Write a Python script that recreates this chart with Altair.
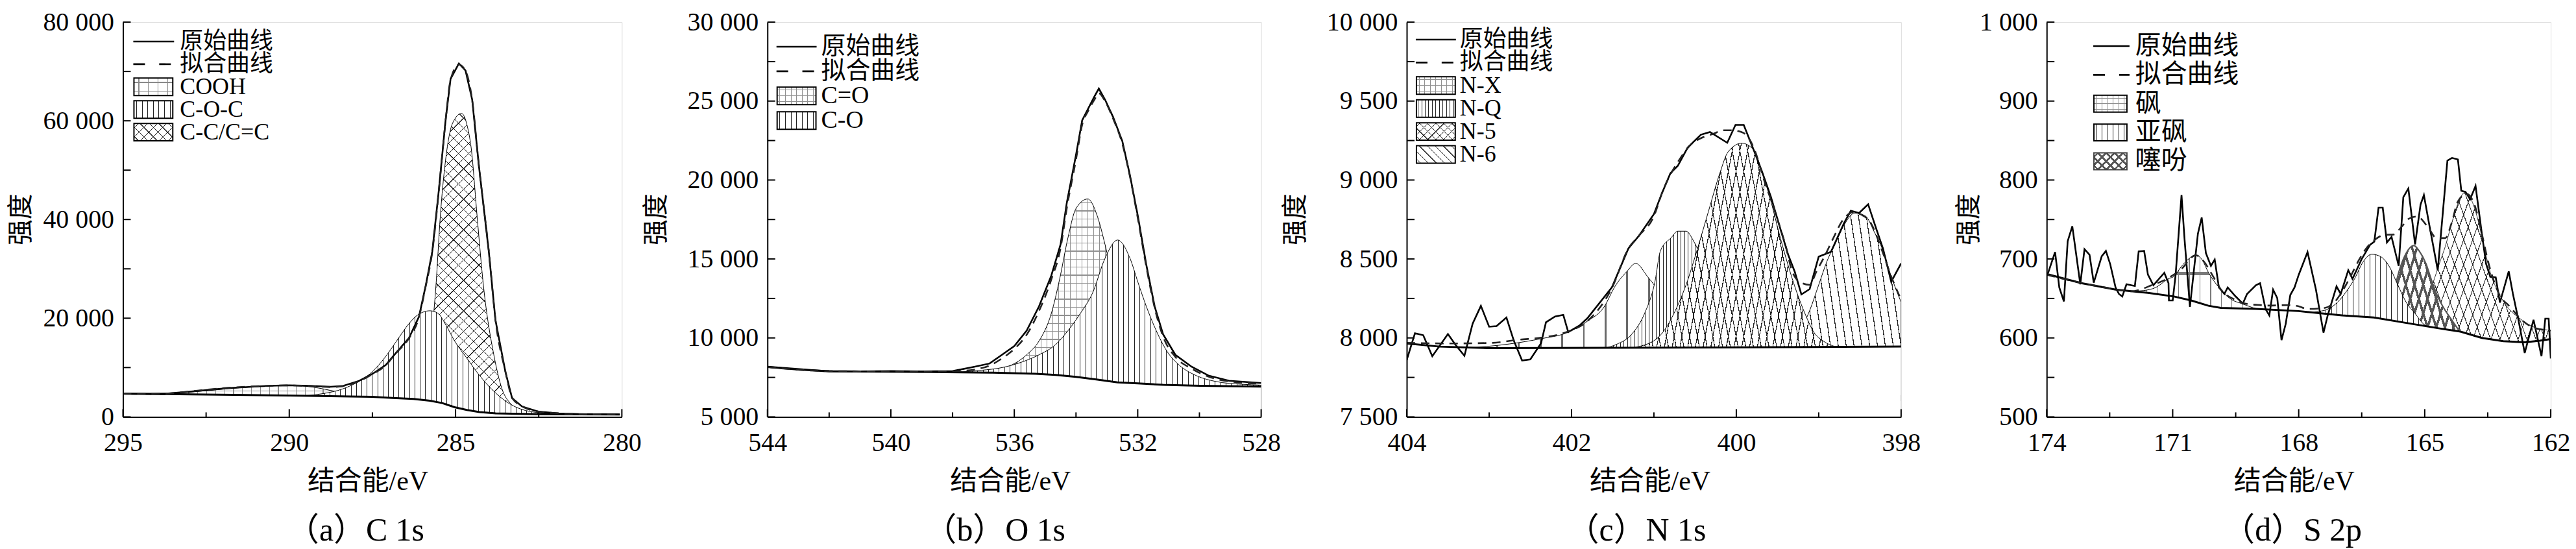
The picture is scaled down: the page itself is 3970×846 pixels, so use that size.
import math
import altair as alt
import pandas as pd

FONT = "Liberation Serif, Noto Sans CJK SC"

# ---------------- (a) C 1s ----------------
a_raw_e = [295.0, 294.2, 293.7, 293.0, 291.9, 290.6, 290.0, 289.4, 288.75, 288.4, 287.9, 287.5, 287.1, 286.8, 286.4, 286.1, 285.9, 285.7, 285.5, 285.3, 285.15, 284.9, 284.7, 284.5, 284.3, 284.0, 283.8, 283.5, 283.3, 283.0, 282.5, 281.9, 281.3, 280.06]
a_raw_v = [4700, 4680, 4700, 5100, 5800, 6300, 6400, 6300, 6100, 6250, 7300, 8700, 10500, 12900, 16000, 20300, 26500, 33500, 46100, 60100, 68500, 71600, 70200, 64300, 51000, 33500, 19600, 9100, 3800, 2100, 1050, 700, 560, 490]
a_fit_e = [295.0, 294.2, 293.7, 293.0, 291.9, 290.6, 290.0, 289.4, 288.75, 288.4, 287.9, 287.5, 287.1, 286.8, 286.4, 286.1, 285.9, 285.7, 285.5, 285.3, 285.15, 284.9, 284.7, 284.5, 284.3, 284.0, 283.8, 283.5, 283.3, 283.0, 282.5, 281.9, 281.3, 280.06]
a_fit_v = [4700, 4690, 4720, 5150, 5850, 6300, 6380, 6250, 6050, 6200, 7250, 8650, 10450, 12850, 15950, 20200, 26400, 33400, 46000, 60000, 68300, 71400, 70100, 64200, 51000, 33600, 19700, 9200, 3900, 2150, 1080, 720, 570, 500]
a_base_e = [295.0, 290.0, 288.75, 287.51, 286.89, 286.27, 285.77, 285.40, 285.03, 284.66, 284.28, 283.79, 282.55, 280.06]
a_base_v = [4700, 4330, 4200, 4050, 3840, 3630, 3280, 2800, 1960, 1400, 980, 700, 560, 490]
a_cooh_e = [294.5, 293.3, 292.5, 291.5, 290.5, 290.0, 289.5, 289.0, 288.5, 288.0, 287.5]
a_cooh_v = [4650, 4900, 5300, 5900, 6300, 6350, 6200, 5700, 5000, 4500, 4050]
a_coc_e = [289.5, 289.0, 288.38, 287.88, 287.51, 287.14, 286.77, 286.4, 286.15, 285.77, 285.53, 285.28, 285.03, 284.66, 284.28, 283.91, 283.41, 282.9, 282.2, 281.5]
a_coc_v = [4300, 4700, 5700, 7300, 9100, 11900, 15400, 18900, 20600, 21500, 21000, 18500, 15400, 11900, 8400, 5600, 2800, 1300, 700, 540]
a_cc_e = [286.6, 286.2, 285.9, 285.65, 285.59, 285.46, 285.28, 285.09, 284.82, 284.65, 284.53, 284.35, 284.16, 283.85, 283.6, 283.35, 283.0, 282.6, 282.0]
a_cc_v = [3600, 5500, 11000, 21500, 26500, 40500, 53100, 59500, 61500, 59000, 54500, 40500, 26500, 12600, 5600, 2700, 1200, 700, 540]

# ---------------- (b) O 1s ----------------
b_raw_e = [544.0, 543.0, 542.0, 541.0, 540.0, 539.0, 538.0, 537.3, 536.8, 536.4, 536.0, 535.6, 535.2, 534.8, 534.5, 534.3, 534.0, 533.8, 533.6, 533.4, 533.26, 533.06, 532.8, 532.5, 532.25, 531.99, 531.72, 531.45, 531.18, 530.78, 530.25, 529.71, 529.04, 528.0]
b_raw_v = [8166, 7990, 7900, 7880, 7900, 7880, 7900, 8170, 8380, 8930, 9480, 10460, 11990, 13950, 15920, 18540, 21590, 23780, 24540, 25300, 25790, 25090, 24000, 22470, 20280, 17660, 14610, 11990, 10240, 8930, 8170, 7620, 7290, 7140]
b_fit_e = [544.0, 542.0, 540.0, 538.0, 537.3, 536.8, 536.4, 536.0, 535.6, 535.2, 534.8, 534.5, 534.3, 534.0, 533.8, 533.6, 533.4, 533.26, 533.06, 532.8, 532.5, 532.25, 531.99, 531.72, 531.45, 531.18, 530.78, 530.25, 529.71, 529.04, 528.0]
b_fit_v = [8150, 7900, 7880, 7880, 8000, 8250, 8700, 9300, 10200, 11700, 13700, 15700, 18200, 21300, 23500, 24400, 25100, 25500, 25000, 23900, 22300, 20200, 17500, 14500, 11900, 10100, 8800, 8050, 7550, 7250, 7100]
b_base_e = [544.0, 542.0, 538.7, 536.7, 535.3, 534.66, 534.0, 533.3, 532.65, 532.0, 531.18, 529.98, 528.0]
b_base_v = [8170, 7880, 7840, 7800, 7730, 7660, 7530, 7360, 7180, 7120, 7030, 6970, 6920]
b_co2_e = [537.5, 536.67, 536.1, 535.6, 535.2, 534.8, 534.53, 534.26, 534.0, 533.62, 533.3, 533.06, 532.8, 532.5, 532.1, 531.6, 531.05, 530.5]
b_co2_v = [7790, 7950, 8270, 8930, 9800, 11550, 13730, 16350, 18200, 18800, 17660, 15920, 13730, 11550, 9370, 7840, 7180, 6960]
b_co_e = [538.5, 537.87, 537.07, 536.4, 535.73, 535.2, 534.66, 534.26, 533.86, 533.46, 533.06, 532.65, 532.25, 531.99, 531.72, 531.45, 531.05, 530.65, 530.11, 529.44, 528.64, 528.0]
b_co_v = [7830, 7840, 7950, 8120, 8490, 8930, 9580, 10460, 11550, 12860, 15040, 16200, 15040, 13510, 11990, 10680, 9150, 8270, 7620, 7230, 7070, 7010]

# ---------------- (c) N 1s ----------------
c_raw_e = [404.0, 403.9, 403.8, 403.69, 403.5, 403.41, 403.3, 403.2, 403.1, 403.0, 402.91, 402.79, 402.7, 402.6, 402.5, 402.37, 402.31, 402.2, 402.1, 402.04, 401.9, 401.81, 401.51, 401.31, 401.18, 401.0, 400.9, 400.8, 400.71, 400.59, 400.43, 400.32, 400.11, 400.01, 399.91, 399.79, 399.69, 399.58, 399.48, 399.37, 399.29, 399.21, 399.11, 399.0, 398.85, 398.69, 398.61, 398.51, 398.4, 398.3, 398.22, 398.12, 398.0]
c_raw_v = [7860, 8030, 8017, 7884, 8025, 7958, 7887, 8091, 8203, 8071, 8075, 8129, 7982, 7857, 7864, 7966, 8099, 8136, 8146, 8037, 8080, 8123, 8320, 8566, 8648, 8784, 8920, 9043, 9090, 9206, 9287, 9304, 9236, 9349, 9349, 9192, 9056, 8893, 8717, 8526, 8418, 8275, 8309, 8515, 8546, 8730, 8805, 8791, 8846, 8689, 8567, 8356, 8472]
c_fit_e = [404.0, 403.5, 403.0, 402.63, 402.35, 402.06, 401.81, 401.51, 401.31, 401.18, 401.0, 400.9, 400.68, 400.57, 400.39, 400.29, 400.16, 400.05, 399.95, 399.87, 399.76, 399.69, 399.53, 399.4, 399.32, 399.21, 399.11, 399.03, 398.92, 398.82, 398.71, 398.58, 398.48, 398.37, 398.24, 398.12, 398.01]
c_fit_v = [7969, 7965, 7968, 7989, 8003, 8037, 8105, 8316, 8566, 8648, 8771, 8920, 9138, 9214, 9274, 9290, 9315, 9315, 9306, 9280, 9165, 9043, 8798, 8581, 8418, 8349, 8336, 8418, 8526, 8635, 8744, 8795, 8780, 8730, 8566, 8390, 8254]
c_base_e = [404.0, 403.6, 403.0, 400.0, 398.0]
c_base_v = [7965, 7945, 7935, 7940, 7945]
c_nx_e = [403.3, 402.75, 402.36, 402.07, 401.81, 401.6, 401.48, 401.33, 401.22, 401.08, 400.95, 400.84, 400.7, 400.55, 400.4]
c_nx_v = [7935, 7962, 7996, 8030, 8105, 8200, 8320, 8420, 8472, 8390, 8300, 8200, 8080, 7990, 7935]
c_nq_e = [401.6, 401.45, 401.27, 401.11, 400.99, 400.92, 400.79, 400.71, 400.61, 400.52, 400.45, 400.35, 400.2, 400.05, 399.85, 399.7]
c_nq_v = [7935, 7960, 8023, 8159, 8350, 8553, 8635, 8676, 8676, 8615, 8540, 8400, 8190, 8040, 7960, 7935]
c_n5_e = [401.3, 401.0, 400.89, 400.74, 400.61, 400.47, 400.34, 400.2, 400.1, 399.935, 399.79, 399.69, 399.58, 399.48, 399.37, 399.27, 399.16, 399.06, 398.95, 398.8]
c_n5_v = [7935, 7982, 8037, 8173, 8336, 8567, 8798, 9043, 9178, 9233, 9192, 9056, 8866, 8662, 8458, 8295, 8146, 8037, 7982, 7945]
c_n6_e = [399.9, 399.76, 399.58, 399.37, 399.21, 399.11, 399.0, 398.9, 398.79, 398.69, 398.56, 398.43, 398.33, 398.22, 398.12, 398.0]
c_n6_v = [7935, 7955, 7962, 7996, 8064, 8173, 8336, 8485, 8608, 8717, 8791, 8771, 8676, 8553, 8390, 8227]

# ---------------- (d) S 2p ----------------
d_raw_e = [173.97, 173.8, 173.7, 173.59, 173.5, 173.39, 173.2, 173.1, 172.98, 172.88, 172.69, 172.59, 172.49, 172.36, 172.28, 172.2, 172.1, 171.9, 171.81, 171.68, 171.59, 171.46, 171.2, 171.1, 171.09, 171.0, 170.93, 170.79, 170.72, 170.59, 170.4, 170.31, 170.21, 170.09, 170.0, 169.9, 169.77, 169.69, 169.51, 169.33, 169.23, 169.02, 168.92, 168.79, 168.7, 168.61, 168.51, 168.41, 168.31, 168.2, 168.1, 168.0, 167.79, 167.59, 167.41, 167.31, 167.1, 167.0, 166.82, 166.72, 166.5, 166.3, 166.2, 166.1, 166.0, 165.9, 165.79, 165.62, 165.51, 165.39, 165.23, 165.1, 165.02, 164.9, 164.69, 164.46, 164.35, 164.21, 164.13, 164.03, 163.92, 163.79, 163.64, 163.54, 163.44, 163.31, 163.21, 163.0, 162.9, 162.77, 162.62, 162.41, 162.22, 162.13, 162.05, 162.0]
d_raw_v = [681.6, 708.8, 663.9, 646.2, 722.5, 741.5, 668, 712.4, 705.3, 670, 703.4, 710.2, 693.9, 663.9, 655.7, 652.5, 668, 665.8, 709.6, 710.2, 680.2, 666.7, 682.4, 669.4, 647.5, 647.5, 680.2, 781, 726.5, 639.4, 732, 752.5, 707.5, 691.2, 699.3, 663.9, 655.7, 663.9, 653, 643.5, 655.7, 666.7, 669.4, 636.7, 628.5, 661.2, 650.3, 597.2, 617.6, 654.4, 663.9, 680, 708.8, 661.2, 606.7, 628.5, 665.3, 655.7, 685.7, 674.8, 700, 718, 722, 765, 765, 721, 728, 691.2, 778.3, 789.2, 718.4, 768.8, 781, 745.6, 685.7, 824.6, 828, 826, 786.4, 785, 775.6, 792.5, 732, 693.9, 677.5, 676.7, 644.8, 684.3, 655.7, 623, 580.9, 623, 576.8, 624.4, 624.4, 574]
d_fit_e = [174.0, 173.2, 172.4, 172.0, 171.5, 171.1, 170.8, 170.45, 170.26, 170.05, 169.85, 169.54, 169.28, 169.02, 168.71, 168.26, 168.0, 167.79, 167.38, 167.18, 166.97, 166.77, 166.56, 166.36, 166.2, 165.95, 165.74, 165.56, 165.38, 165.18, 164.92, 164.72, 164.51, 164.36, 164.21, 164.0, 163.79, 163.64, 163.49, 163.23, 162.97, 162.67, 162.36, 162.0]
d_fit_v = [680, 670, 662, 659, 666.7, 676, 687, 704.7, 697, 679, 661.2, 649, 643.5, 642, 641, 641.5, 640, 636.7, 638, 643.5, 658.5, 677.5, 699.3, 715.7, 723.9, 730.6, 731, 740.2, 751, 753.8, 740, 726.5, 726.5, 745.6, 772.9, 782.4, 764.7, 732, 696.6, 655.7, 639.4, 621.7, 612.2, 609.5]
d_base_e = [174.0, 173.18, 172.36, 171.59, 170.97, 170.56, 170.15, 169.85, 169.02, 168.0, 166.97, 166.21, 165.44, 164.67, 164.15, 163.64, 163.13, 162.62, 162.26, 162.0]
d_base_v = [681, 669.4, 661.2, 657.1, 652.5, 647.5, 640.8, 638, 636.7, 634, 628.5, 625.8, 619, 612.2, 608, 600, 595.8, 594.4, 596.5, 598.5]
d_sulfone_e = [172.0, 171.7, 171.4, 171.1, 170.97, 170.8, 170.6, 170.46, 170.3, 170.15, 169.9, 169.64, 169.33, 169.0, 168.7]
d_sulfone_v = [659, 660, 664, 675, 678, 690, 701, 705, 699, 683, 664, 650, 643, 637, 635]
d_sulfoxide_e = [167.8, 167.59, 167.33, 167.08, 166.87, 166.67, 166.46, 166.26, 166.05, 165.85, 165.64, 165.44, 165.23, 165.03, 164.82]
d_sulfoxide_v = [631, 633, 636, 645, 658.5, 675, 697, 706, 703, 691, 667, 645, 631, 617.6, 612]
d_thio_e = [166.1, 165.95, 165.8, 165.69, 165.59, 165.44, 165.26, 165.13, 164.97, 164.85, 164.72, 164.56, 164.36, 164.18]
d_thio_v = [625, 635, 650, 669, 688, 707.5, 717, 710, 694, 675, 656, 639, 623, 609]
d_thio2_e = [165.5, 165.28, 165.08, 164.92, 164.82, 164.72, 164.62, 164.51, 164.41, 164.31, 164.18, 164.05, 163.9, 163.74, 163.59, 163.44, 163.23, 163.03, 162.77, 162.46, 162.0]
d_thio2_v = [619, 623, 634, 650, 667, 683, 699, 716, 735, 754, 774, 784, 776, 751, 716, 683, 656, 639, 626, 615, 609.5]

LABEL_RAW = "原始曲线"
LABEL_FIT = "拟合曲线"
a_labels = ["COOH", "C-O-C", "C-C/C=C"]
b_labels = ["C=O", "C-O"]
c_labels = ["N-X", "N-Q", "N-5", "N-6"]
d_labels = ["砜", "亚砜", "噻吩"]

ONE = pd.DataFrame({"k": [0]})
CLEAR = "rgba(255,255,255,0)"

# hatch styles: list of (direction, spacing px, line width px, colour)
HATCH = {
    "dot":    [("v", 14, 1.2, "#8a8a8a"), ("h", 14, 1.2, "#8a8a8a")],
    "dotfine": [("v", 9, 1.0, "#909090"), ("h", 9, 1.0, "#909090")],
    "dotmid": [("v", 16.5, 1.3, "#7a7a7a"), ("h", 16.5, 1.3, "#7a7a7a")],
    "dotbold": [("v", 35, 3.0, "#6a6a6a"), ("h", 35, 3.0, "#6a6a6a")],
    "vert":   [("v", 8.3, 1.0, "#222222")],
    "vertfine": [("v", 5.5, 1.0, "#222222")],
    "cross":  [("bs", 11, 0.9, "#222222"), ("fs", 11, 0.9, "#222222")],
    "crossfine": [("bs", 8.5, 0.9, "#222222"), ("fs", 8.5, 0.9, "#222222")],
    "back":   [("bs", 8.5, 0.9, "#222222")],
    "crossbold": [("bs", 9.4, 2.6, "#555555"), ("fs", 9.4, 2.6, "#555555")],
    "crossthin": [("bs", 10, 0.9, "#333333"), ("fs", 10, 0.9, "#333333")],
}


def gradient(direction, w, h, spacing, lw, color, bg):
    w = max(w, 1.0)
    h = max(h, 1.0)
    if direction == "v":
        span, p = w, (0, 0, 1, 0)
    elif direction == "h":
        span, p = h, (0, 0, 0, 1)
    else:
        c = (w + h) / (w * w + h * h)
        span = (w + h) / math.sqrt(2)
        if direction == "bs":
            p = (0, 1, c * w, 1 - c * h)
        else:
            p = (0, 0, c * w, c * h)
    n = max(1, int(round(span / spacing)))
    hw = lw / (2 * span)
    stops = [{"offset": 0, "color": bg}]
    for i in range(n):
        t = (i + 0.5) / n
        a, b = round(max(t - hw, 0), 6), round(min(t + hw, 1), 6)
        stops += [{"offset": a, "color": bg}, {"offset": a, "color": color},
                  {"offset": b, "color": color}, {"offset": b, "color": bg}]
    stops.append({"offset": 1, "color": bg})
    return {"gradient": "linear", "x1": p[0], "y1": p[1], "x2": p[2], "y2": p[3],
            "stops": stops}


def fills(style, w, h):
    out = []
    for k, (d, s, lw, col) in enumerate(HATCH[style]):
        out.append(gradient(d, w, h, s, lw, col, "white" if k == 0 else CLEAR))
    return out


def frame(e, v):
    return pd.DataFrame({"e": e, "v": v})


def panel(W, H, xdom, xmajor, xminor, ydom, ymajor, yminor,
          comps, base, fit, raw, legend, leg_cfg, caption, cap_dx,
          xt_dx, yt_x):
    xs = alt.Scale(domain=xdom, reverse=True, nice=False, zero=False)
    ys = alt.Scale(domain=ydom, nice=False, zero=False)
    X = alt.X("e:Q", scale=xs, axis=alt.Axis(
        values=xmajor, title=None, ticks=False, grid=False, format="d",
        labelFont=FONT, labelFontSize=40, labelColor="black", labelPadding=20,
        labelFlush=False, labelOverlap=False, domainColor="black",
        domainWidth=2, zindex=1))
    Y = alt.Y("v:Q", scale=ys, axis=alt.Axis(
        values=ymajor, title=None, ticks=False, grid=False,
        labelExpr="replace(format(datum.value, ','), ',', ' ')",
        labelFont=FONT, labelFontSize=40,
        labelColor="black", labelPadding=14, labelFlush=False,
        labelOverlap=False, domainColor="black", domainWidth=2, zindex=1))

    px_per_e = W / (xdom[1] - xdom[0])
    px_per_v = H / (ydom[1] - ydom[0])

    layers = []
    for (e, v, style, stroke, sw) in comps:
        w = (max(e) - min(e)) * px_per_e
        h = (max(v) - ydom[0]) * px_per_v
        fl = fills(style, w, h)
        for k, f in enumerate(fl):
            last = k == len(fl) - 1
            layers.append(alt.Chart(frame(e, v)).mark_area(
                fill=f, stroke=stroke if last else None,
                strokeWidth=sw if last else 0, clip=True,
                interpolate="monotone").encode(x=X, y=Y, y2=alt.value(H)))
    # white area below the background line hides the lower parts of peaks
    layers.append(alt.Chart(frame(*base)).mark_area(
        fill="white", clip=True).encode(x=X, y=Y, y2=alt.value(H)))
    layers.append(alt.Chart(frame(*base)).mark_line(
        color="black", strokeWidth=3, clip=True).encode(x=X, y=Y))
    layers.append(alt.Chart(frame(*raw)).mark_line(
        color="black", strokeWidth=2.6, clip=True).encode(x=X, y=Y))
    layers.append(alt.Chart(frame(*fit)).mark_line(
        color="#222222", strokeWidth=2.6, strokeDash=[13, 9],
        clip=True, interpolate="monotone").encode(x=X, y=Y))

    # inward ticks
    layers.append(alt.Chart(pd.DataFrame({"v": ymajor + yminor})).mark_rule(
        color="black", strokeWidth=2).encode(y=Y, x=alt.value(0), x2=alt.value(12)))
    layers.append(alt.Chart(pd.DataFrame({"e": xmajor})).mark_rule(
        color="black", strokeWidth=2).encode(x=X, y=alt.value(H), y2=alt.value(H - 12)))
    layers.append(alt.Chart(pd.DataFrame({"e": xminor})).mark_rule(
        color="black", strokeWidth=2).encode(x=X, y=alt.value(H), y2=alt.value(H - 7)))

    # legend
    x0, y0, dy, llen, bw, bh, tx, fs = leg_cfg
    for i, (label, kind, style, stroke) in enumerate(legend):
        yy = y0 + i * dy
        if kind == "solid":
            layers.append(alt.Chart(ONE).mark_rule(color="black", strokeWidth=2.6).encode(
                x=alt.value(x0), x2=alt.value(x0 + llen), y=alt.value(yy)))
        elif kind == "dash":
            layers.append(alt.Chart(ONE).mark_rule(color="black", strokeWidth=2.6,
                                                   strokeDash=[18, 22]).encode(
                x=alt.value(x0), x2=alt.value(x0 + llen), y=alt.value(yy)))
        else:
            fl = fills(style, bw, bh)
            for k, f in enumerate(fl):
                last = k == len(fl) - 1
                layers.append(alt.Chart(ONE).mark_rect(
                    fill=f, stroke=stroke if last else None,
                    strokeWidth=2 if last else 0).encode(
                    x=alt.value(x0 + 1), x2=alt.value(x0 + 1 + bw),
                    y=alt.value(yy - bh / 2), y2=alt.value(yy + bh / 2)))
        layers.append(alt.Chart(ONE).mark_text(
            align="left", baseline="middle", font=FONT, fontSize=fs, color="black").encode(
            x=alt.value(tx), y=alt.value(yy), text=alt.value(label)))

    # axis titles and caption
    layers.append(alt.Chart(ONE).mark_text(
        align="center", baseline="middle", font=FONT, fontSize=42, color="black").encode(
        x=alt.value(W / 2 + xt_dx), y=alt.value(H + 100), text=alt.value("结合能/eV")))
    layers.append(alt.Chart(ONE).mark_text(
        align="center", baseline="middle", font=FONT, fontSize=40, angle=270, color="black").encode(
        x=alt.value(yt_x), y=alt.value(H / 2), text=alt.value("强度")))
    layers.append(alt.Chart(ONE).mark_text(
        align="center", baseline="middle", font=FONT, fontSize=50, color="black").encode(
        x=alt.value(W / 2 + cap_dx), y=alt.value(H + 176), text=alt.value(caption)))

    return alt.layer(*layers).properties(width=W, height=H)


H = 610

pa = panel(
    771, H, [280, 295], [295, 290, 285, 280], [292.5, 287.5, 282.5],
    [0, 80000], [0, 20000, 40000, 60000, 80000], [10000, 30000, 50000, 70000],
    [(a_cc_e, a_cc_v, "cross", "black", 1),
     (a_cooh_e, a_cooh_v, "dot", "black", 1),
     (a_coc_e, a_coc_v, "vert", "black", 1)],
    (a_base_e, a_base_v), (a_fit_e, a_fit_v), (a_raw_e, a_raw_v),
    [(LABEL_RAW, "solid", None, None), (LABEL_FIT, "dash", None, None),
     (a_labels[0], "box", "dot", "black"), (a_labels[1], "box", "vert", "black"),
     (a_labels[2], "box", "cross", "black")],
    (16, 30, 35, 63, 60, 27, 88, 36),
    "（a）C 1s", -26, -7, -157)

pb = panel(
    763, H, [528, 544], [544, 540, 536, 532, 528], [542, 538, 534, 530],
    [5000, 30000], [5000, 10000, 15000, 20000, 25000, 30000],
    [7500, 12500, 17500, 22500, 27500],
    [(b_co2_e, b_co2_v, "dotfine", "black", 1),
     (b_co_e, b_co_v, "vert", "black", 1)],
    (b_base_e, b_base_v), (b_fit_e, b_fit_v), (b_raw_e, b_raw_v),
    [(LABEL_RAW, "solid", None, None), (LABEL_FIT, "dash", None, None),
     (b_labels[0], "box", "dotfine", "black"), (b_labels[1], "box", "vert", "black")],
    (14, 38, 38, 62, 60, 27, 83, 38),
    "（b）O 1s", -30, -6, -171)

pc = panel(
    764, H, [398, 404], [404, 402, 400, 398], [403, 401, 399],
    [7500, 10000], [7500, 8000, 8500, 9000, 9500, 10000],
    [7750, 8250, 8750, 9250, 9750],
    [(c_n6_e, c_n6_v, "back", "black", 1),
     (c_nx_e, c_nx_v, "dotbold", "black", 1),
     (c_nq_e, c_nq_v, "vertfine", "black", 1),
     (c_n5_e, c_n5_v, "crossfine", "black", 1)],
    (c_base_e, c_base_v), (c_fit_e, c_fit_v), (c_raw_e, c_raw_v),
    [(LABEL_RAW, "solid", None, None), (LABEL_FIT, "dash", None, None),
     (c_labels[0], "box", "dotfine", "black"), (c_labels[1], "box", "vertfine", "black"),
     (c_labels[2], "box", "crossfine", "black"), (c_labels[3], "box", "back", "black")],
    (14, 27, 35.5, 62, 60, 27, 82, 36),
    "（c）N 1s", -27, -6, -171)

pd_ = panel(
    779, H, [162, 174], [174, 171, 168, 165, 162], [172.5, 169.5, 166.5, 163.5],
    [500, 1000], [500, 600, 700, 800, 900, 1000], [550, 650, 750, 850, 950],
    [(d_thio2_e, d_thio2_v, "crossthin", "#333333", 1),
     (d_thio_e, d_thio_v, "crossbold", "#555555", 2.2),
     (d_sulfoxide_e, d_sulfoxide_v, "vert", "black", 1),
     (d_sulfone_e, d_sulfone_v, "dotmid", "black", 1)],
    (d_base_e, d_base_v), (d_fit_e, d_fit_v), (d_raw_e, d_raw_v),
    [(LABEL_RAW, "solid", None, None), (LABEL_FIT, "dash", None, None),
     (d_labels[0], "box", "dotfine", "black"), (d_labels[1], "box", "vert", "black"),
     (d_labels[2], "box", "crossbold", "#444444")],
    (72, 37, 44.5, 56, 51, 26, 137, 40),
    "（d）S 2p", -10, -7, -120)

chart = alt.hconcat(pa, pb, pc, pd_, spacing=225, bounds="flush").properties(
    padding={"left": 4, "top": 4, "right": 0, "bottom": 0}
).configure_view(stroke=None).configure(background="white")

chart.save("out.html", embed_options={"renderer": "svg", "actions": False})
